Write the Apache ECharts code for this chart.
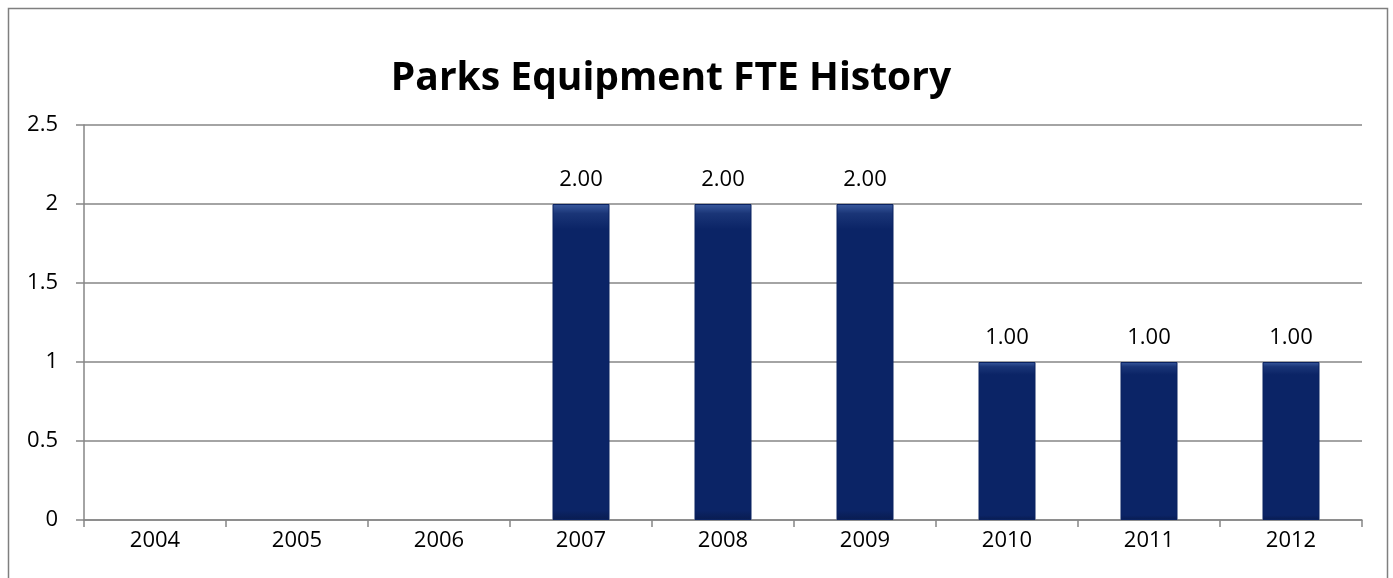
<!DOCTYPE html>
<html><head><meta charset="utf-8">
<script src="https://cdn.jsdelivr.net/npm/echarts@6/dist/echarts.min.js"></script>
<style>html,body{margin:0;padding:0;background:#fff}#c{width:1393px;height:578px}</style>
</head><body><div id="c"></div>
<script>
const categories = ['2004','2005','2006','2007','2008','2009','2010','2011','2012'];
const fteValues = [null, null, null, 2, 2, 2, 1, 1, 1];
const yTicks = [0, 0.5, 1, 1.5, 2, 2.5];

const chart = echarts.init(document.getElementById('c'));
const font = '"Open Sans", Arial, sans-serif';
chart.setOption({
  animation: false,
  title: {
    text: 'Parks Equipment FTE History',
    left: 666, top: 54, textAlign: 'center',
    textStyle: {fontFamily: font, fontSize: 39, fontWeight: 'bold', color: '#000'}
  },
  graphic: [{
    type: 'rect', shape: {x: 8.5, y: 8.5, width: 1379, height: 600},
    style: {fill: 'none', stroke: '#7F7F7F', lineWidth: 1.5}, silent: true
  }],
  grid: {left: 84, right: 31, top: 125, bottom: 58},
  xAxis: {
    type: 'category', data: categories,
    axisLine: {lineStyle: {color: '#868686', width: 1.5}},
    axisTick: {show: true, length: 7, alignWithLabel: false, lineStyle: {color: '#868686', width: 1.5}},
    axisLabel: {fontFamily: font, fontSize: 22, color: '#000', margin: 10}
  },
  yAxis: {
    type: 'value', min: 0, max: 2.5, interval: 0.5,
    axisLine: {show: true, lineStyle: {color: '#868686', width: 1.5}},
    axisTick: {show: true, length: 8, lineStyle: {color: '#868686', width: 1.5}},
    splitLine: {lineStyle: {color: '#868686', width: 1.5}},
    axisLabel: {fontFamily: font, fontSize: 22, color: '#000', margin: 26,
      formatter: v => yTicks.includes(v) ? String(v) : ''}
  },
  series: [{
    type: 'bar', data: fteValues, barWidth: 57,
    itemStyle: {
      color: new echarts.graphic.LinearGradient(0, 0, 0, 1, [
        {offset: 0, color: '#3A5A9E'}, {offset: 0.03, color: '#1A3577'},
        {offset: 0.08, color: '#0B2466'}, {offset: 0.97, color: '#0B2466'}, {offset: 1, color: '#091C50'}
      ]),
      borderColor: '#0A2260', borderWidth: 1
    },
    label: {show: true, position: 'top', distance: 13, fontFamily: font, fontSize: 22, color: '#000',
      formatter: p => p.value == null ? '' : Number(p.value).toFixed(2)}
  }]
});
</script></body></html>
